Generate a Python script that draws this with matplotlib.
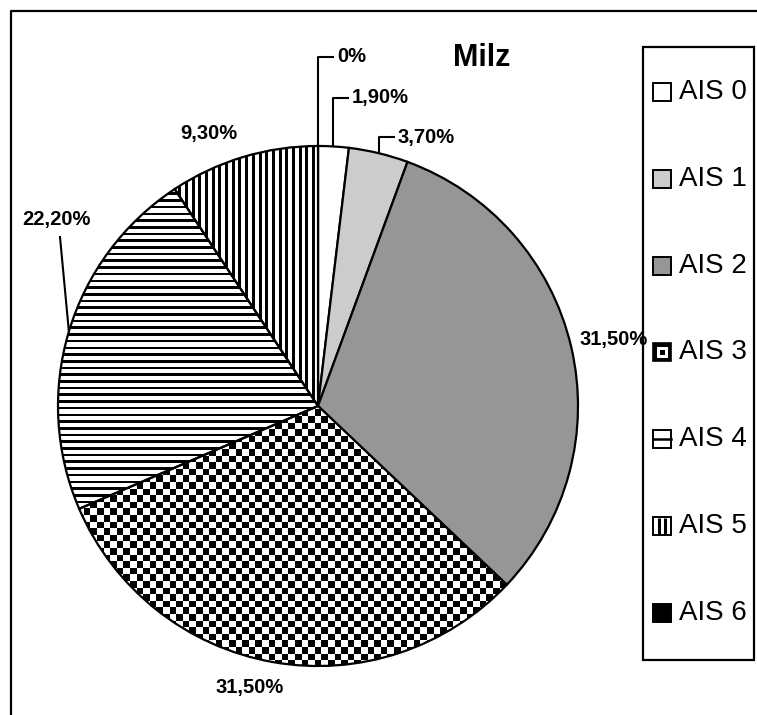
import numpy as np
import matplotlib
matplotlib.use("Agg")
import matplotlib.pyplot as plt
from matplotlib.patches import Rectangle

plt.rcParams['font.family'] = ['Liberation Sans', 'DejaVu Sans']

# Verteilung der AIS-Grade (Milz), in Prozent
categories = ['AIS 0', 'AIS 1', 'AIS 2', 'AIS 3', 'AIS 4', 'AIS 5', 'AIS 6']
values = [1.9, 3.7, 31.5, 31.5, 22.2, 9.3, 0.0]
value_labels = ['1,90%', '3,70%', '31,50%', '31,50%', '22,20%', '9,30%', '0%']

# Füllungen: Farbe oder Muster
fills = ['white', '#cccccc', '#969696', 'checker', 'hlines', 'vlines', 'black']

W, H = 757, 715
fig = plt.figure(figsize=(W / 100, H / 100), dpi=100)
ax = fig.add_axes([0, 0, 1, 1])


def Y(y):
    # Pixel von oben -> Achsenkoordinate
    return H - y


cx, cy, r = 318, Y(406), 260

wedges, _ = ax.pie(values, colors=['white'] * len(values), startangle=90,
                   counterclock=False, center=(cx, cy), radius=r,
                   wedgeprops=dict(edgecolor='black', linewidth=1.6),
                   frame=True)

# Musterbilder über der Kreisfläche
n = 2 * r + 2
xx, yy = np.meshgrid(np.arange(n), np.arange(n))


def pattern(kind):
    if kind == 'checker':
        return ((np.floor(xx / 6.6) + np.floor(yy / 6.6)) % 2)
    if kind == 'hlines':
        return (yy % 6.7 < 2.6).astype(float)
    if kind == 'vlines':
        return (xx % 6.7 < 3.0).astype(float)
    return None


for w, f in zip(wedges, fills):
    pat = pattern(f)
    if pat is None:
        w.set_facecolor(f)
        continue
    w.set_facecolor('none')
    w.set_zorder(3)
    im = ax.imshow(pat, cmap='gray_r', vmin=0, vmax=1, interpolation='nearest',
                   extent=(cx - r - 1, cx + r + 1, cy - r - 1, cy + r + 1), zorder=2)
    im.set_clip_path(w)

ax.set_xlim(0, W)
ax.set_ylim(0, H)
ax.set_aspect('equal')
ax.axis('off')

# Beschriftungen (Textposition in Pixeln, Art der Führungslinie)
label_pos = [(352, 98, 'elbow'), (398, 137, 'elbow'), (579, 340, None),
             (215, 688, None), (22, 219, 'line'), (180, 134, None), (337, 57, 'elbow')]

lab_font = dict(fontsize=14.5, fontweight='bold', va='center', ha='left')
for w, lab, (tx, ty, kind) in zip(wedges, value_labels, label_pos):
    ang = np.deg2rad((w.theta1 + w.theta2) / 2)
    ex, ey = cx + r * np.cos(ang), cy + r * np.sin(ang)
    ax.text(tx, Y(ty), lab, **lab_font, zorder=5)
    if kind == 'elbow':
        ax.plot([ex, ex, tx - 4], [ey, Y(ty), Y(ty)], color='black', lw=1.5, zorder=4)
    elif kind == 'line':
        ax.plot([ex, tx + 38], [ey, Y(ty + 18)], color='black', lw=1.5, zorder=4)

ax.text(482, Y(58), 'Milz', fontsize=22, fontweight='bold', ha='center', va='center')

# Legende
ax.add_patch(Rectangle((643, Y(660)), 111, 613, fill=False, edgecolor='black', lw=1.6))
for i, (cat, f) in enumerate(zip(categories, fills)):
    ym = Y(92 + i * 86.8)
    x0, s = 653, 18
    y0 = ym - s / 2
    if f == 'checker':
        ax.add_patch(Rectangle((x0, y0), s, s, facecolor='black', edgecolor='black', lw=1.2))
        ax.add_patch(Rectangle((x0 + 3.5, y0 + 3.5), s - 7, s - 7, facecolor='white', lw=0))
        ax.add_patch(Rectangle((x0 + 6.5, y0 + 6.5), s - 13, s - 13, facecolor='black', lw=0))
    elif f == 'hlines':
        ax.add_patch(Rectangle((x0, y0), s, s, facecolor='white', edgecolor='black', lw=1.4))
        ax.plot([x0, x0 + s], [ym, ym], color='black', lw=1.8)
    elif f == 'vlines':
        ax.add_patch(Rectangle((x0, y0), s, s, facecolor='white', edgecolor='black', lw=1.4))
        for fx in (x0 + s / 3, x0 + 2 * s / 3):
            ax.plot([fx, fx], [y0 + 1, y0 + s - 1], color='black', lw=2.2,
                    solid_capstyle='butt')
    else:
        ax.add_patch(Rectangle((x0, y0), s, s, facecolor=f, edgecolor='black', lw=1.4))
    ax.text(679, ym, cat, fontsize=20, va='center', ha='left')

# Rahmen (oben und links)
ax.plot([11, 11, W + 5], [-5, Y(11), Y(11)], color='black', lw=1.6, clip_on=False)

fig.savefig('out.png', dpi=100)
